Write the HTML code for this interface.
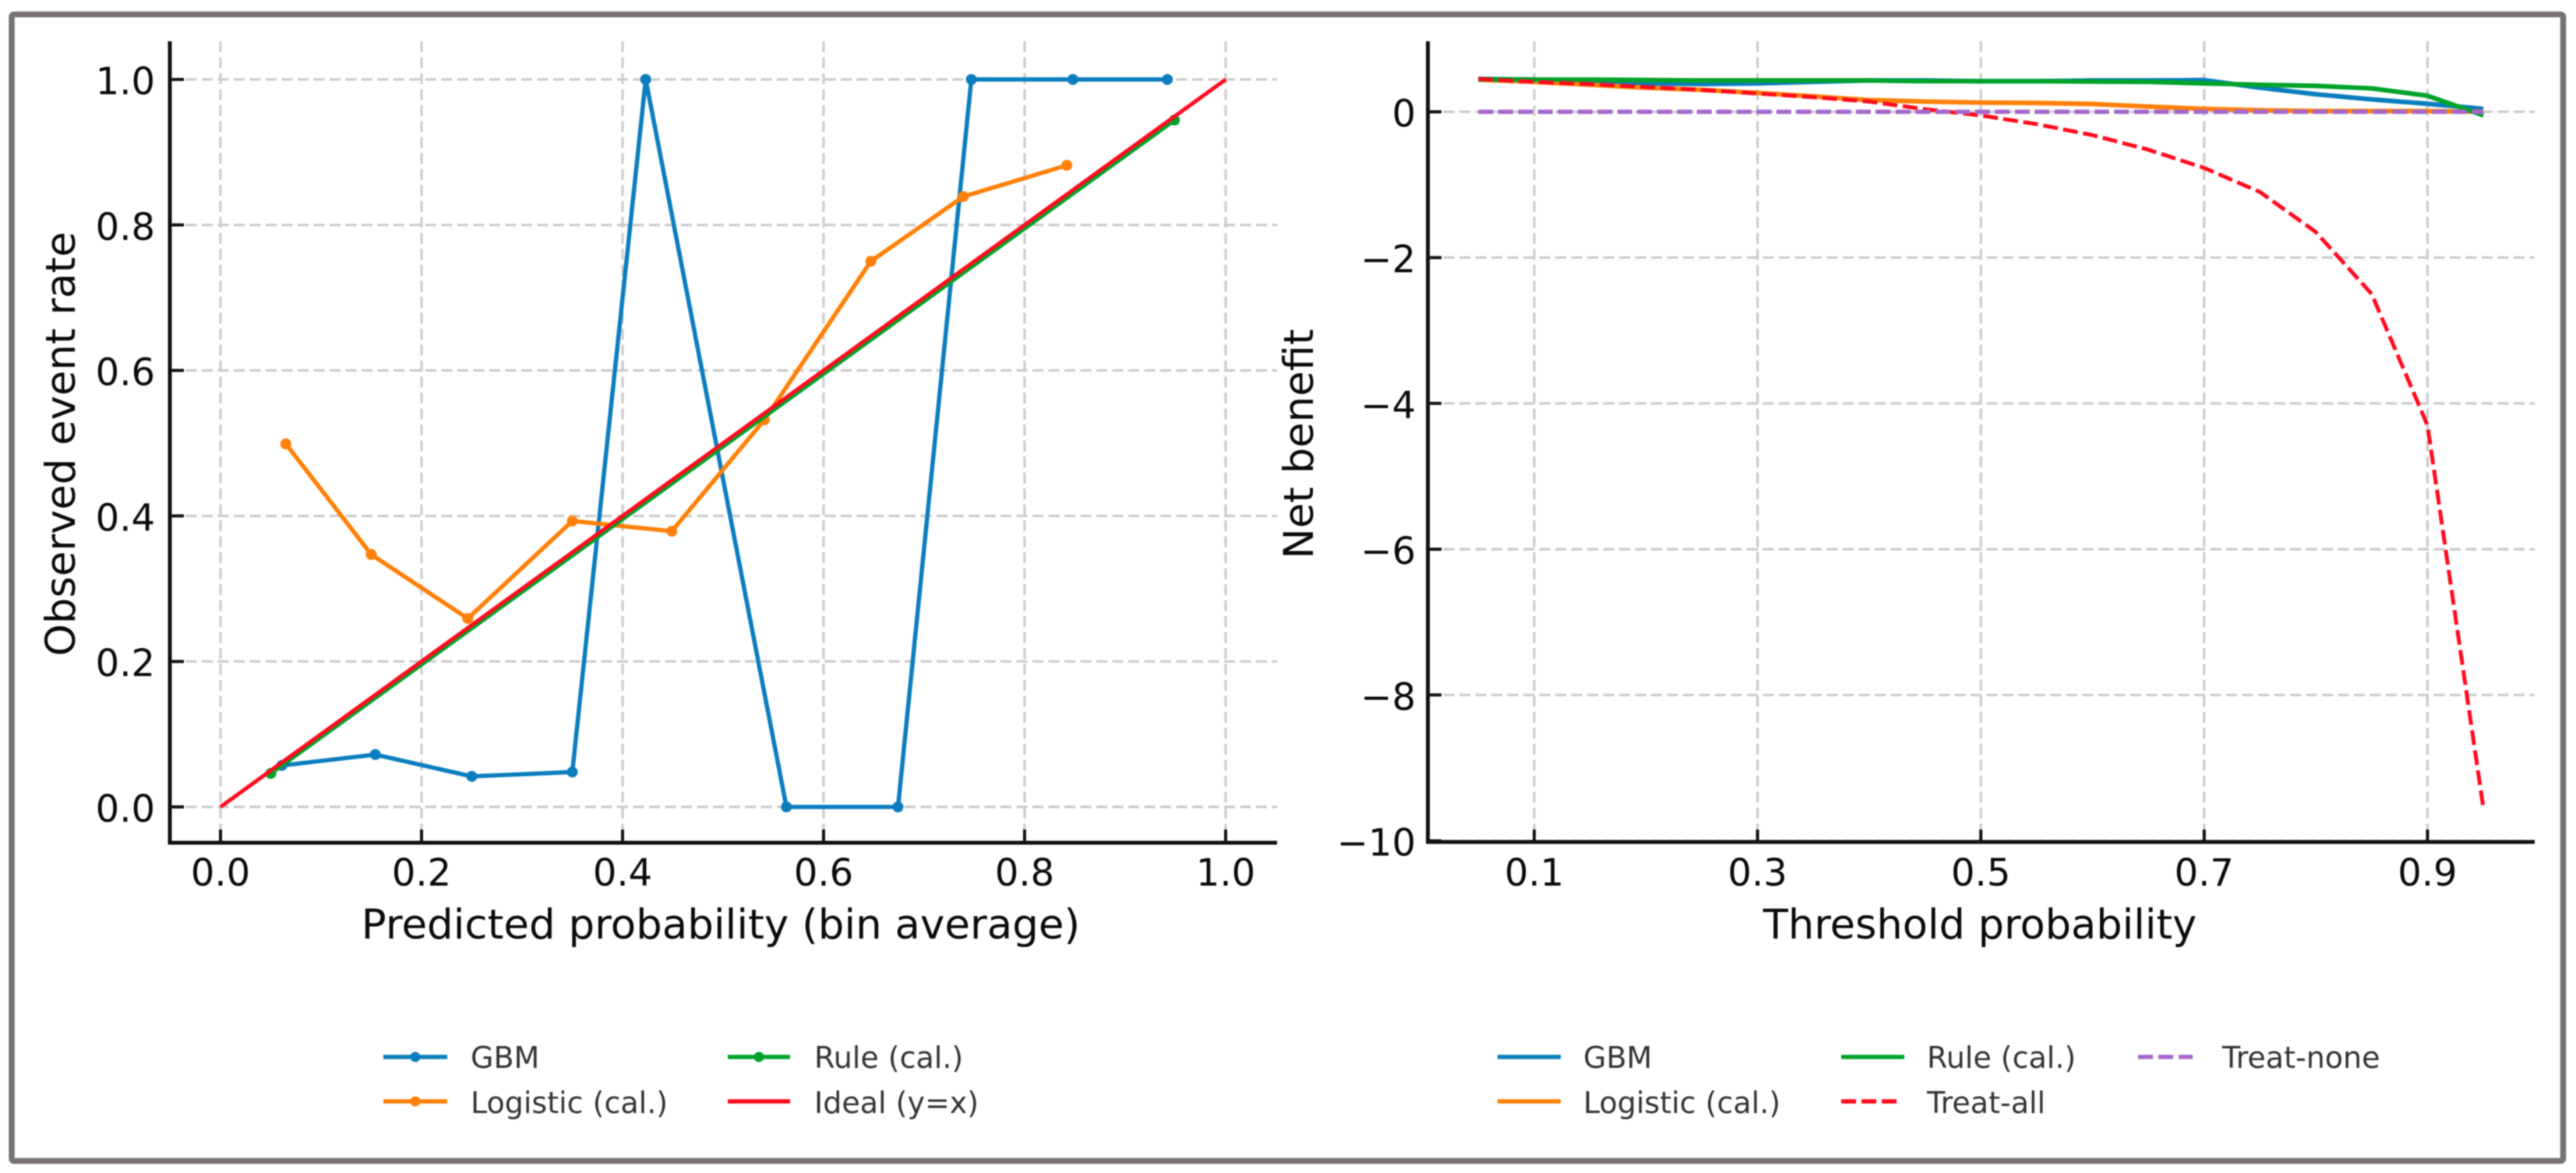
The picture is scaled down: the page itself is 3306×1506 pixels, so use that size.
<!DOCTYPE html>
<html lang="en">
<head>
<meta charset="utf-8">
<title>Calibration and decision curves</title>
<style>
html,body{margin:0;padding:0;background:#fff;width:3306px;height:1506px;overflow:hidden}
svg{display:block;font-family:"DejaVu Sans",sans-serif;filter:blur(.9px)}
.lg{font-size:38px;fill:#333}
.ax{font-size:52.8px;fill:#0a0a0a}
.tk{font-size:48px;fill:#0a0a0a}
</style>
</head>
<body>
<svg id="chart" xmlns="http://www.w3.org/2000/svg" width="3306" height="1506" viewBox="0 0 3306 1506">
  <rect x="15" y="18.5" width="3274.5" height="1472" rx="3" fill="#fff" stroke="#787372" stroke-width="7.5"/>
  <g id="left-plot"></g>
  <g id="right-plot"></g>

  <text class="ax" x="925" y="1205" text-anchor="middle" style="font-size:53px">Predicted probability (bin average)</text>
  <text class="ax" transform="translate(96 570) rotate(-90)" text-anchor="middle">Observed event rate</text>
  <text class="ax" x="2541" y="1205" text-anchor="middle" style="font-size:52.6px">Threshold probability</text>
  <text class="ax" transform="translate(1685 570) rotate(-90)" text-anchor="middle">Net benefit</text>

  <g>
    <g><line x1="492" x2="574" y1="1357" y2="1357" stroke="#0a7dbe" stroke-width="5.5"/><circle cx="533" cy="1357" r="6.5" fill="#0a7dbe"/><text class="lg" x="604" y="1371">GBM</text></g>
    <g><line x1="492" x2="574" y1="1414" y2="1414" stroke="#ff8008" stroke-width="5.5"/><circle cx="533" cy="1414" r="6.5" fill="#ff8008"/><text class="lg" x="604" y="1429">Logistic (cal.)</text></g>
    <g><line x1="934" x2="1014" y1="1357" y2="1357" stroke="#00a32a" stroke-width="5.5"/><circle cx="974" cy="1357" r="6.5" fill="#00a32a"/><text class="lg" x="1045" y="1371">Rule (cal.)</text></g>
    <g><line x1="934" x2="1014" y1="1414" y2="1414" stroke="#ff0a1e" stroke-width="5.5"/><text class="lg" x="1045" y="1429">Ideal (y=x)</text></g>
  </g>
  <g>
    <g><line x1="1922" x2="2003" y1="1357" y2="1357" stroke="#0a7dbe" stroke-width="5.5"/><text class="lg" x="2032" y="1371">GBM</text></g>
    <g><line x1="1922" x2="2003" y1="1414" y2="1414" stroke="#ff8008" stroke-width="5.5"/><text class="lg" x="2032" y="1429">Logistic (cal.)</text></g>
    <g><line x1="2363" x2="2444" y1="1357" y2="1357" stroke="#00a32a" stroke-width="5.5"/><text class="lg" x="2473" y="1371">Rule (cal.)</text></g>
    <g><line x1="2363" x2="2434" y1="1414" y2="1414" stroke="#ff0a1e" stroke-width="5.5" stroke-dasharray="19 7"/><text class="lg" x="2473" y="1429">Treat-all</text></g>
    <g><line x1="2744" x2="2814" y1="1357" y2="1357" stroke="#a566cc" stroke-width="5.5" stroke-dasharray="19 7"/><text class="lg" x="2852" y="1371">Treat-none</text></g>
  </g>
</svg>
<script>
const calXTicks = ['0.0', '0.2', '0.4', '0.6', '0.8', '1.0'];
const calYTicks = ['0.0', '0.2', '0.4', '0.6', '0.8', '1.0'];
const gbmCalX = [0.061, 0.154, 0.25, 0.35, 0.423, 0.563, 0.674, 0.747, 0.848, 0.942];
const gbmCalY = [0.057, 0.072, 0.042, 0.048, 1.0, 0.0, 0.0, 1.0, 1.0, 1.0];
const logisticCalX = [0.065, 0.15, 0.246, 0.35, 0.449, 0.541, 0.647, 0.739, 0.842];
const logisticCalY = [0.499, 0.347, 0.259, 0.393, 0.379, 0.532, 0.75, 0.839, 0.882];
const ruleCalX = [0.05, 0.949];
const ruleCalY = [0.046, 0.944];
const idealX = [0, 1];
const idealY = [0, 1];

const dcaXTicks = ['0.1', '0.3', '0.5', '0.7', '0.9'];
const dcaYTicks = ['0', '\u22122', '\u22124', '\u22126', '\u22128', '\u221210'];
const thresholds = [0.05, 0.1, 0.15, 0.2, 0.25, 0.3, 0.35, 0.4, 0.45, 0.5, 0.55, 0.6, 0.65, 0.7, 0.75, 0.8, 0.85, 0.9, 0.95];
const gbmNet = [0.45, 0.44, 0.41, 0.39, 0.38, 0.39, 0.41, 0.43, 0.43, 0.42, 0.42, 0.43, 0.43, 0.435, 0.33, 0.24, 0.17, 0.11, 0.04];
const logisticNet = [0.44, 0.41, 0.37, 0.33, 0.3, 0.26, 0.21, 0.16, 0.14, 0.125, 0.12, 0.107, 0.07, 0.04, 0.02, 0.01, 0.01, 0.01, 0.0];
const ruleNet = [0.445, 0.44, 0.44, 0.435, 0.43, 0.43, 0.43, 0.43, 0.42, 0.42, 0.42, 0.415, 0.41, 0.39, 0.37, 0.355, 0.32, 0.22, -0.05];
const treatAllNet = [0.45, 0.41, 0.38, 0.34, 0.3, 0.25, 0.2, 0.14, 0.035, -0.05, -0.17, -0.32, -0.52, -0.77, -1.1, -1.65, -2.5, -4.3, -9.55];
const treatNoneNet = [0, 0, 0, 0, 0, 0, 0, 0, 0, 0, 0, 0, 0, 0, 0, 0, 0, 0, 0];

const NS = 'http://www.w3.org/2000/svg';
const BLUE = '#0a7dbe', ORANGE = '#ff8008', GREEN = '#00a32a', RED = '#ff0a1e', PURPLE = '#a566cc';

function node(parent, tag, props, text) {
  const el = document.createElementNS(NS, tag);
  for (const k in props) el.setAttribute(k, props[k]);
  if (text !== undefined) el.textContent = text;
  parent.appendChild(el);
  return el;
}

const calX = v => 283 + v * 1290;
const calY = v => 1036 - v * 934;
const dcaX = v => 1969 + (v - 0.1) * 1433;
const dcaY = v => 143.5 - v * 93.6;

function gridLine(parent, x1, y1, x2, y2) {
  const el = node(parent, 'line', {x1, y1, x2, y2, stroke: '#cbcbcb', 'stroke-width': 3.2, 'stroke-dasharray': '14 6.5'});
  
  
}

function tickMark(parent, x1, y1, x2, y2) {
  const el = node(parent, 'line', {x1, y1, x2, y2, stroke: '#111', 'stroke-width': 4});
  
  
}

function tickText(parent, x, y, anchor, label) {
  const el = node(parent, 'text', {class: 'tk', x, y, 'text-anchor': anchor}, label);
  
  
}

function spine(parent, x1, y1, x2, y2) {
  const el = node(parent, 'line', {x1, y1, x2, y2, stroke: '#111', 'stroke-width': 5});
  
  
}

function series(parent, name, xs, ys, fx, fy, color, width, dash, markers) {
  const pts = xs.map((x, i) => fx(x).toFixed(1) + ',' + fy(ys[i]).toFixed(1)).join(' ');
  const props = {points: pts, fill: 'none', stroke: color, 'stroke-width': width, 'stroke-linejoin': 'round'};
  if (dash) props['stroke-dasharray'] = dash;
  const line = node(parent, 'polyline', props);
  
  
  if (markers) {
    xs.forEach((x, i) => {
      const dot = node(parent, 'circle', {cx: fx(x), cy: fy(ys[i]), r: 7, fill: color});
      
      
    });
  }
}

const left = document.getElementById('left-plot');
const right = document.getElementById('right-plot');

calXTicks.forEach(t => gridLine(left, calX(+t), 53, calX(+t), 1082));
calYTicks.forEach(t => gridLine(left, 218, calY(+t), 1639, calY(+t)));
series(left, 'gbm', gbmCalX, gbmCalY, calX, calY, BLUE, 5.5, null, true);
series(left, 'logistic', logisticCalX, logisticCalY, calX, calY, ORANGE, 5.5, null, true);
series(left, 'rule', ruleCalX, ruleCalY, calX, calY, GREEN, 5.5, null, true);
series(left, 'ideal', idealX, idealY, calX, calY, RED, 5, null, false);
calXTicks.forEach(t => {
  tickMark(left, calX(+t), 1082, calX(+t), 1065);
  tickText(left, calX(+t), 1137, 'middle', t);
});
calYTicks.forEach(t => {
  tickMark(left, 218, calY(+t), 236, calY(+t));
  tickText(left, 199, calY(+t) + 19, 'end', t);
});
spine(left, 218, 53, 218, 1084);
spine(left, 216, 1082, 1639, 1082);

dcaXTicks.forEach(t => gridLine(right, dcaX(+t), 53, dcaX(+t), 1081));
dcaYTicks.forEach(t => {
  const v = +t.replace('\u2212', '-');
  gridLine(right, 1832, dcaY(v), 3253, dcaY(v));
});
series(right, 'gbm', thresholds, gbmNet, dcaX, dcaY, BLUE, 6, null, false);
series(right, 'logistic', thresholds, logisticNet, dcaX, dcaY, ORANGE, 6, null, false);
series(right, 'rule', thresholds, ruleNet, dcaX, dcaY, GREEN, 6, null, false);
series(right, 'treat-all', thresholds, treatAllNet, dcaX, dcaY, RED, 5, '19 7', false);
series(right, 'treat-none', thresholds, treatNoneNet, dcaX, dcaY, PURPLE, 5.5, '19 6.5', false);
dcaXTicks.forEach(t => {
  tickMark(right, dcaX(+t), 1081, dcaX(+t), 1065);
  tickText(right, dcaX(+t), 1137, 'middle', t);
});
dcaYTicks.forEach(t => {
  const v = +t.replace('\u2212', '-');
  tickMark(right, 1832, dcaY(v), 1850, dcaY(v));
  tickText(right, 1817, dcaY(v) + 19, 'end', t);
});
spine(right, 1832.5, 53, 1832.5, 1083);
spine(right, 1830, 1081, 3253, 1081);
</script>
</body>
</html>
